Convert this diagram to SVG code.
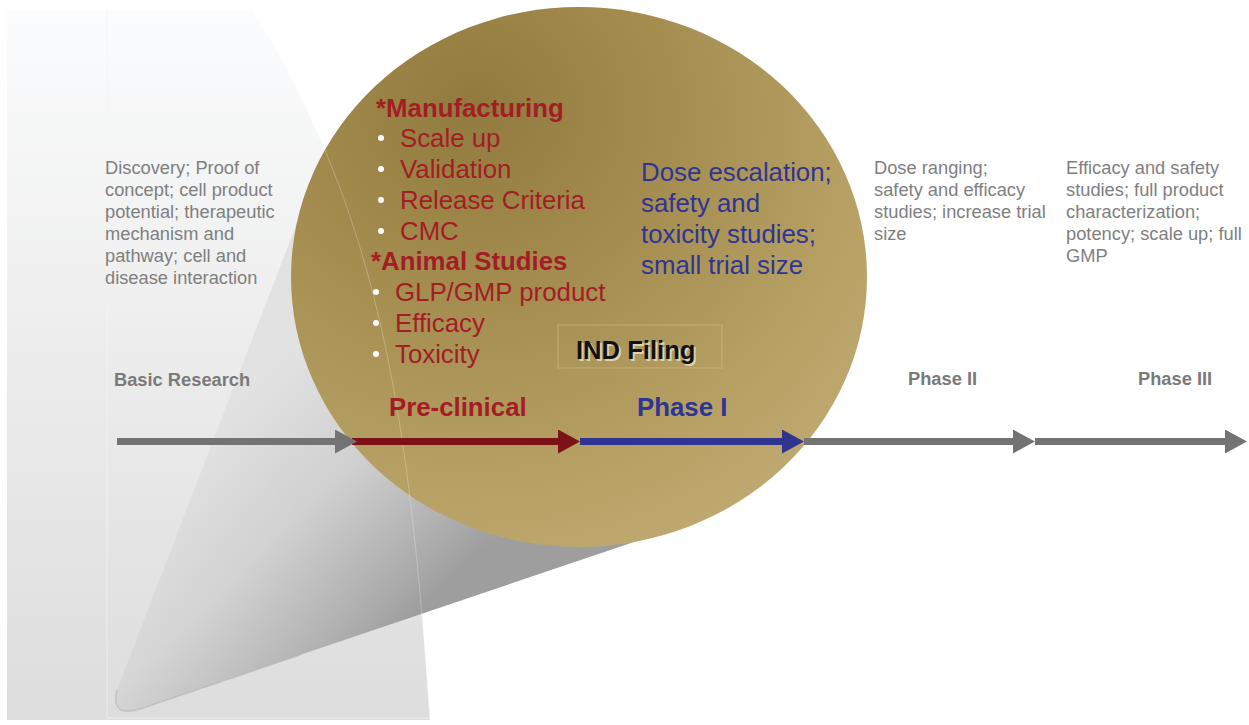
<svg xmlns="http://www.w3.org/2000/svg" width="1249" height="725" viewBox="0 0 1249 725">
  <defs>
    <linearGradient id="panelGrad" x1="0" y1="10" x2="0" y2="720" gradientUnits="userSpaceOnUse">
      <stop offset="0" stop-color="#fbfcfd"/>
      <stop offset="0.5" stop-color="#ececec"/>
      <stop offset="1" stop-color="#dddddd"/>
    </linearGradient>
    <linearGradient id="coneGrad" x1="240" y1="400" x2="430" y2="600" gradientUnits="userSpaceOnUse">
      <stop offset="0" stop-color="#e2e2e2"/>
      <stop offset="0.45" stop-color="#d0d0d0"/>
      <stop offset="0.85" stop-color="#adadad"/>
      <stop offset="1" stop-color="#9e9e9e"/>
    </linearGradient>
    <linearGradient id="tipGlow" x1="125" y1="705" x2="330" y2="520" gradientUnits="userSpaceOnUse">
      <stop offset="0" stop-color="#ffffff" stop-opacity="0.15"/>
      <stop offset="1" stop-color="#ffffff" stop-opacity="0"/>
    </linearGradient>
    <radialGradient id="circleGrad" cx="0.3" cy="0.22" r="0.95" fx="0.32" fy="0.18">
      <stop offset="0" stop-color="#917a3d"/>
      <stop offset="0.35" stop-color="#a48c4f"/>
      <stop offset="0.75" stop-color="#b8a266"/>
      <stop offset="1" stop-color="#c2ad77"/>
    </radialGradient>
    <marker id="headGray" markerUnits="userSpaceOnUse" markerWidth="22" markerHeight="24" refX="2" refY="12" orient="auto">
      <path d="M0,0 L22,12 L0,24 Z" fill="#737373"/>
    </marker>
    <marker id="headRed" markerUnits="userSpaceOnUse" markerWidth="22" markerHeight="24" refX="2" refY="12" orient="auto">
      <path d="M0,0 L22,12 L0,24 Z" fill="#7c1216"/>
    </marker>
    <marker id="headBlue" markerUnits="userSpaceOnUse" markerWidth="22" markerHeight="24" refX="2" refY="12" orient="auto">
      <path d="M0,0 L22,12 L0,24 Z" fill="#2f3590"/>
    </marker>
    <style>
      .gray { font-family: "Liberation Sans", Arial, sans-serif; font-size: 18.3px; fill: #7f7f7f; }
      .grayB { font-family: "Liberation Sans", Arial, sans-serif; font-size: 18.3px; font-weight: bold; fill: #7a7a7a; }
      .red { font-family: "Liberation Sans", Arial, sans-serif; font-size: 25.8px; fill: #a31d24; }
      .redB { font-family: "Liberation Sans", Arial, sans-serif; font-size: 25.8px; font-weight: bold; fill: #a31d24; }
      .blue { font-family: "Liberation Sans", Arial, sans-serif; font-size: 25.8px; fill: #2e3593; }
      .blueB { font-family: "Liberation Sans", Arial, sans-serif; font-size: 25.8px; font-weight: bold; fill: #2e3593; }
      .ind { font-family: "Liberation Sans", Arial, sans-serif; font-size: 25.6px; font-weight: bold; }
      .bullet { fill: #ffffff; }
      .shaft { stroke-width: 7; fill: none; }
    </style>
  </defs>

  <rect x="0" y="0" width="1249" height="725" fill="#ffffff"/>

  <g id="backdrop">
    <path d="M7,10 L253,10 C383,223 409,421 430,720 L7,720 Z" fill="url(#panelGrad)"/>
    <path d="M107,10 L107,718 L430,718" fill="none" stroke="#f4f4f4" stroke-opacity="0.7" stroke-width="1"/>
    <path d="M300,215 L117,690 Q110,718 140,709 L640,540 Z" fill="url(#coneGrad)"/>
    <path d="M300,215 L117,690 Q110,718 140,709 L640,540 Z" fill="url(#tipGlow)"/>
    <path d="M117,690 Q110,718 140,709 L300,655" fill="none" stroke="#b4b4b4" stroke-opacity="0.6" stroke-width="1.5"/>
    <ellipse cx="579" cy="277" rx="288" ry="270" fill="url(#circleGrad)"/>
    <path d="M253,10 C383,223 409,421 430,720" fill="none" stroke="#ffffff" stroke-opacity="0.25" stroke-width="1"/>
  </g>

  <g id="node-basic-research">
    <text class="gray" x="105" y="174">Discovery; Proof of</text>
    <text class="gray" x="105" y="196">concept; cell product</text>
    <text class="gray" x="105" y="218">potential; therapeutic</text>
    <text class="gray" x="105" y="240">mechanism and</text>
    <text class="gray" x="105" y="262">pathway; cell and</text>
    <text class="gray" x="105" y="284">disease interaction</text>
    <text class="grayB" x="114" y="386">Basic Research</text>
  </g>

  <g id="node-preclinical">
    <text class="redB" x="376" y="116.5">*Manufacturing</text>
    <circle class="bullet" cx="381" cy="138" r="3"/>
    <text class="red" x="400" y="147">Scale up</text>
    <circle class="bullet" cx="381" cy="169" r="3"/>
    <text class="red" x="400" y="178">Validation</text>
    <circle class="bullet" cx="381" cy="200" r="3"/>
    <text class="red" x="400" y="209">Release Criteria</text>
    <circle class="bullet" cx="381" cy="231" r="3"/>
    <text class="red" x="400" y="240">CMC</text>
    <text class="redB" x="371" y="270">*Animal Studies</text>
    <circle class="bullet" cx="376" cy="292" r="3"/>
    <text class="red" x="395" y="301">GLP/GMP product</text>
    <circle class="bullet" cx="376" cy="323" r="3"/>
    <text class="red" x="395" y="332">Efficacy</text>
    <circle class="bullet" cx="376" cy="354" r="3"/>
    <text class="red" x="395" y="363">Toxicity</text>
    <text class="redB" x="389" y="415.5">Pre-clinical</text>
  </g>

  <g id="node-ind-filing">
    <rect x="558" y="325" width="164" height="43" fill="none" stroke="#d9cc9a" stroke-opacity="0.45" stroke-width="1"/>
    <text class="ind" x="578" y="360.5" fill="#ddd3b3">IND Filing</text>
    <text class="ind" x="576" y="358.5" fill="#111111">IND Filing</text>
  </g>

  <g id="node-phase1">
    <text class="blue" x="641" y="181">Dose escalation;</text>
    <text class="blue" x="641" y="212">safety and</text>
    <text class="blue" x="641" y="243">toxicity studies;</text>
    <text class="blue" x="641" y="274">small trial size</text>
    <text class="blueB" x="637" y="415.5">Phase I</text>
  </g>

  <g id="node-phase2">
    <text class="gray" x="874" y="174">Dose ranging;</text>
    <text class="gray" x="874" y="196">safety and efficacy</text>
    <text class="gray" x="874" y="218">studies; increase trial</text>
    <text class="gray" x="874" y="240">size</text>
    <text class="grayB" x="908" y="385">Phase II</text>
  </g>

  <g id="node-phase3">
    <text class="gray" x="1066" y="174">Efficacy and safety</text>
    <text class="gray" x="1066" y="196">studies; full product</text>
    <text class="gray" x="1066" y="218">characterization;</text>
    <text class="gray" x="1066" y="240">potency; scale up; full</text>
    <text class="gray" x="1066" y="262">GMP</text>
    <text class="grayB" x="1138" y="385">Phase III</text>
  </g>

  <g id="connectors">
    <line class="shaft" x1="1035" y1="441.5" x2="1227" y2="441.5" stroke="#737373" marker-end="url(#headGray)"/>
    <line class="shaft" x1="804" y1="441.5" x2="1015" y2="441.5" stroke="#737373" marker-end="url(#headGray)"/>
    <line class="shaft" x1="580" y1="441.5" x2="784" y2="441.5" stroke="#2f3590" marker-end="url(#headBlue)"/>
    <line class="shaft" x1="352" y1="441.5" x2="560" y2="441.5" stroke="#7c1216" marker-end="url(#headRed)"/>
    <line class="shaft" x1="117" y1="441.5" x2="337" y2="441.5" stroke="#737373" marker-end="url(#headGray)"/>
  </g>
</svg>
